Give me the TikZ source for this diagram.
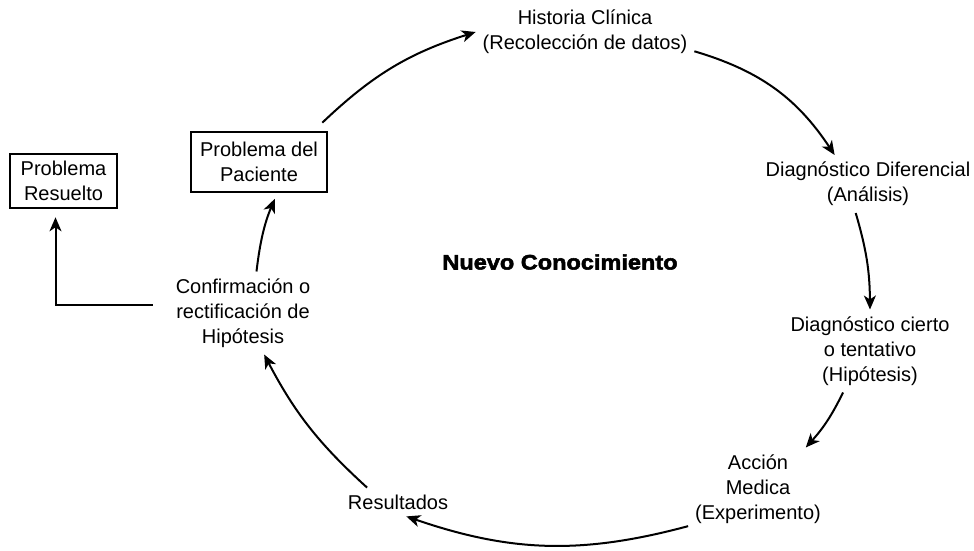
\documentclass[tikz,border=0pt]{standalone}
\usepackage{fontspec}
\setmainfont{Liberation Sans}
\newfontfamily\heavyfont{Liberation Sans Bold}[FakeBold=2.5,FakeStretch=1.12]
\usetikzlibrary{arrows.meta, calc}

\begin{document}
\begin{tikzpicture}[x=0.5pt, y=-0.5pt,
  every node/.style={font=\fontsize{10}{12.5}\selectfont, align=center},
  box/.style={draw, line width=1.3pt, inner sep=2pt},
  flow/.style={line width=1pt, -{Stealth[length=7pt, width=6pt, inset=2pt]}}]

  \useasboundingbox (0,0) rectangle (974,551);

  % Stages of the cycle
  \node (historia) at (585,32) {Historia Clínica\\(Recolección de datos)};
  \node (diagdif) at (868,184) {Diagnóstico Diferencial\\(Análisis)};
  \node (cierto) at (870,351) {Diagnóstico cierto\\o tentativo\\(Hipótesis)};
  \node (accion) at (758,489) {Acción\\Medica\\(Experimento)};
  \node (resultados) at (398,502) {Resultados};
  \node (confirm) at (243,313) {Confirmación o\\rectificación de\\Hipótesis};

  % Boxed problems
  \node[box, minimum width=68pt, minimum height=30pt] (paciente) at (259,162) {Problema del\\Paciente};
  \node[box, minimum width=53.5pt, minimum height=27pt] (resuelto) at (63.5,181) {Problema\\Resuelto};

  % Centre label
  \node (nuevo) at (560,262) {\heavyfont\fontsize{10.5}{12}\selectfont Nuevo Conocimiento};

  % Cycle arrows
  \draw[flow] ([xshift=-3pt,yshift=4pt]paciente.north east) to[bend left=13] (historia.west);
  \draw[flow] (historia.-10) to[bend left=20] (diagdif.139);
  \draw[flow] (diagdif.247) to[bend left=8] (cierto.north);
  \draw[flow] (cierto.237) to[bend left=8] (accion.41);
  \draw[flow] (accion.208) to[bend left=17] (resultados.-60);
  \draw[flow] (resultados.155) to[bend left=10] (confirm.-63);
  \draw[flow, shorten >=3pt] (confirm.72) to[bend left=8] (paciente.-60);

  % Exit
  \draw[flow, shorten >=4pt] ([xshift=-8pt,yshift=4pt]confirm.west) -| ([xshift=-4pt]resuelto.south);

\end{tikzpicture}
\end{document}
